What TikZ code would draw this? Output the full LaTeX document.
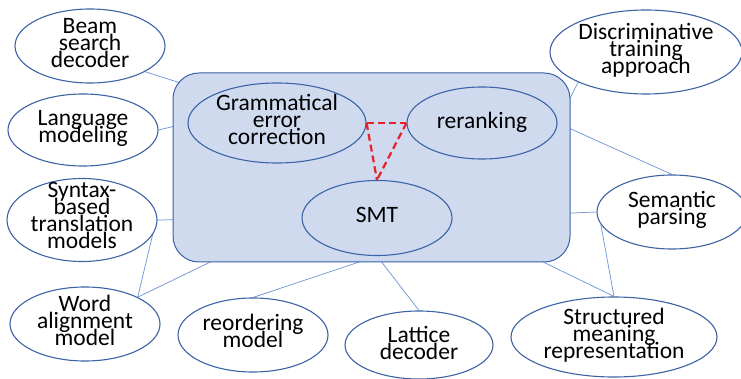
\documentclass[tikz,border=0pt]{standalone}
\usepackage{fontspec}
\setmainfont{Carlito}
\usetikzlibrary{shapes.geometric}
\definecolor{panelfill}{HTML}{CFDAEE}
\definecolor{panelline}{HTML}{3A62A8}
\definecolor{bubline}{HTML}{3C63A6}
\definecolor{linkcol}{HTML}{7097D6}
\definecolor{dashred}{HTML}{E8202A}
\pgfdeclarelayer{links}
\pgfsetlayers{links,main}
\newcommand\lnstrut{\vphantom{lgpy}}
\tikzset{
  bub/.style={ellipse, draw=bubline, line width=1.1pt, inner sep=0pt},
  outbub/.style={bub, fill=white},
  txt/.style={align=center, inner sep=0pt, text=black,
    font={\fontsize{23.5}{17}\selectfont\lineskiplimit=-50pt},
    execute at begin node=\lnstrut, execute at end node=\lnstrut},
  link/.style={draw=linkcol, line width=0.75pt},
  tie/.style={draw=dashred, line width=2.2pt, dash pattern=on 7pt off 4pt}
}
\begin{document}
\begin{tikzpicture}[x=1pt,y=-1pt]
\useasboundingbox (0,0) rectangle (741,379);
% central panel
\node[draw=panelline, fill=panelfill, line width=1pt, rounded corners=26pt,
      minimum width=397pt, minimum height=189pt, inner sep=0pt] (panel) at (371.5,167.5) {};
% bubbles inside the panel
\node[bub, minimum width=178pt, minimum height=80pt] (gec) at (277,123) {};
\node[bub, minimum width=150pt, minimum height=72pt] (rer) at (482,123) {};
\node[bub, minimum width=150pt, minimum height=75pt] (smt) at (377,218) {};
% outer bubbles
\node[outbub, minimum width=150pt, minimum height=74pt] (beam) at (90,46) {};
\node[outbub, minimum width=150pt, minimum height=72pt] (lang) at (83,130) {};
\node[outbub, minimum width=150pt, minimum height=83pt] (syn) at (82,220) {};
\node[outbub, minimum width=150pt, minimum height=74pt] (word) at (85,324) {};
\node[outbub, minimum width=150pt, minimum height=74pt] (reord) at (253,335) {};
\node[outbub, minimum width=148pt, minimum height=68pt] (lat) at (419,345) {};
\node[outbub, minimum width=206pt, minimum height=80pt] (str) at (614,337) {};
\node[outbub, minimum width=150pt, minimum height=74pt] (sem) at (672,212) {};
\node[outbub, minimum width=192pt, minimum height=84pt] (disc) at (646,52) {};
% labels
\node[txt] (gecT) at ([yshift=2pt]gec.center) {Grammatical\\error\\correction};
\node[txt] (rerT) at ([yshift=1pt]rer.center) {reranking};
\node[txt] (smtT) at ([yshift=2pt]smt.center) {SMT};
\node[txt] (beamT) at ([yshift=1.5pt]beam.center) {Beam\\search\\decoder};
\node[txt] (langT) at ([yshift=2pt]lang.center) {Language\\modeling};
\node[txt] (synT) at ([yshift=2.5pt]syn.center) {Syntax-\\based\\translation\\models};
\node[txt] (wordT) at ([yshift=2pt]word.center) {Word\\alignment\\model};
\node[txt] (reordT) at ([yshift=2pt]reord.center) {reordering\\model};
\node[txt] (latT) at ([yshift=0.5pt]lat.center) {Lattice\\decoder};
\node[txt] (strT) at ([yshift=2pt]str.center) {Structured\\meaning\\representation};
\node[txt] (semT) at ([yshift=2pt]sem.center) {Semantic\\parsing};
\node[txt] (discT) at ([yshift=2pt]disc.center) {Discriminative\\training\\approach};
% connectors
\begin{pgfonlayer}{links}
\draw[link] (beam.-25) -- (gec.155);
\draw[link] (lang.0) -- (gec.180);
\draw[link] (rer.0) -- (disc.204);
\draw[link] (rer.0) -- (sem.90);
\draw[link] (syn.0) -- (smt.180);
\draw[link] (word.27) -- (smt.180);
\draw[link] (word.27) -- (syn.-12);
\draw[link] (reord.90) -- (smt.270);
\draw[link] (lat.90) -- (smt.270);
\draw[link] (smt.0) -- (sem.180);
\draw[link] (smt.0) -- (str.90);
\draw[link] (sem.190) -- (str.90);
\end{pgfonlayer}
% dashed triangle between the three inner topics
\draw[tie] (gec.0) -- (rer.180);
\draw[tie] (gec.0) -- (smt.90);
\draw[tie] (rer.180) -- (smt.90);
\end{tikzpicture}
\end{document}
